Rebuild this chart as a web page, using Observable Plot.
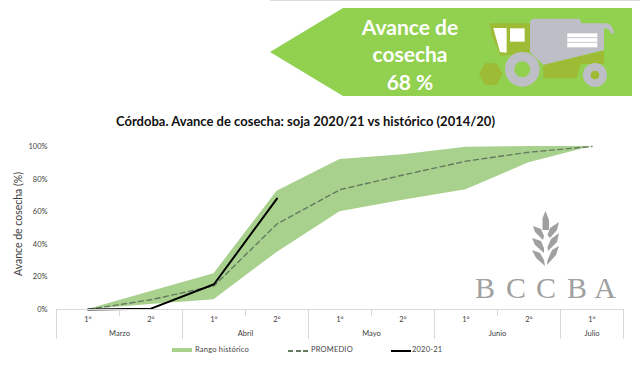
<!DOCTYPE html>
<html><head><meta charset="utf-8">
<script src="https://cdn.jsdelivr.net/npm/d3@7"></script>
<script src="https://cdn.jsdelivr.net/npm/@observablehq/plot@0.6"></script>
<style>
html,body{margin:0;padding:0;background:#fff;overflow:hidden}
#page{position:relative;width:640px;height:371px;font-family:Lato,"Open Sans",sans-serif;color:#404040}
#page>*{position:absolute}
#topline{left:270px;top:0;width:370px;height:1px;background:#dcdce0}
#deco{left:0;top:0}
#title{left:116px;top:112px;white-space:nowrap;font:700 13px/18px Lato,sans-serif;color:#111}
#chart{left:0;top:130px}
.lg{font-size:7.5px;line-height:10px;top:345px;color:#444;letter-spacing:.2px}
.sw{top:348px;width:20px;height:4px;background:#a9d18e}
.da{top:350px;width:20px;height:1.5px;background:repeating-linear-gradient(90deg,#647a5e 0 5px,transparent 5px 7.5px)}
.bl{top:349.5px;width:20px;height:2px;background:#000}
</style></head><body>
<div id="page">
<div id="topline"></div>
<svg id="deco" width="640" height="371">
  <polygon points="270,52 343,8 632,8 632,96 343,96" fill="#92d050"/>
  <g font-family="Lato,sans-serif" font-weight="700" fill="#fff" text-anchor="middle" font-size="21">
    <text x="410" y="35">Avance de</text>
    <text x="410" y="62">cosecha</text>
    <text x="410" y="90">68 %</text>
  </g>
  <g transform="translate(260,0) scale(0.3333)">
    <polygon points="690,70 812,70 812,155 722,168 695,105" fill="#9dbb35"/>
    <polygon points="700,84 740,84 740,158 720,156" fill="#fff"/>
    <rect x="750" y="85" width="44" height="40" fill="#fff"/>
    <path d="M810,155 V70 Q810,58 822,56 L958,56 L965,70 H1040 Q1056,72 1063,100 L1055,102 Q1048,84 1032,84 V150 L850,195 Z" fill="#bebec6"/>
    <polygon points="850,195 1032,152 1032,192 962,192 950,235 850,235" fill="#9dbb35"/>
    <rect x="922" y="100" width="90" height="42" fill="#fff"/>
    <g stroke="#c8c8ce" stroke-width="3"><line x1="922" y1="113" x2="1012" y2="113"/><line x1="922" y1="127" x2="1012" y2="127"/></g>
    <polygon points="657,222 675,190 710,190 728,222 710,255 675,255" fill="#9dbb35"/>
    <circle cx="787" cy="208" r="38" fill="#92d050" stroke="#bebec6" stroke-width="28"/>
    <circle cx="1005" cy="225" r="24" fill="#92d050" stroke="#bebec6" stroke-width="24"/>
    <circle cx="1005" cy="225" r="13" fill="#9dbb35"/>
  </g>
  <g fill="#a0a0a0">
    <polygon points="542.5,230 542.5,218 545.5,211 549,220 549,230"/>
    <polygon points="547.5,235 550,228 559,222 557,230 550,238"/>
    <polygon points="544,236 541,229 533,226 535,232 543,240"/>
    <polygon points="547.5,247 551,239 559,233 557,242 548,251"/>
    <polygon points="544,248 541,241 532,238 535,245 544,253"/>
    <polygon points="547.5,260 552,250 559,246 556,255 547,265"/>
    <polygon points="544,260 540,253 532,250 536,258 545,266"/>
  </g>
  <g font-family="Liberation Serif,serif" font-size="30" fill="#a0a0a0" text-anchor="middle">
    <text x="485" y="298">B</text><text x="516" y="298">C</text><text x="546" y="298">C</text><text x="577" y="298">B</text><text x="605" y="298">A</text>
  </g>
</svg>
<div id="title">Córdoba. Avance de cosecha: soja 2020/21 vs histórico (2014/20)</div>
<div id="chart"></div>
<div class="sw" style="left:172px"></div><div class="lg" style="left:195px">Rango histórico</div>
<div class="da" style="left:288px"></div><div class="lg" style="left:311px">PROMEDIO</div>
<div class="bl" style="left:391px"></div><div class="lg" style="left:412px">2020-21</div>
</div>
<script>
const decenas = ["1°","2°","1°","2°","1°","2°","1°","2°","1°"];
const meses = ["Marzo","Abril","Mayo","Junio","Julio"];
const mesCentro = [0.5,2.5,4.5,6.5,8];
const limitesMes = [-0.5,1.5,3.5,5.5,7.5,8.5];
const limitesDecena = [0.5,2.5,4.5,6.5];
const yTicks = [0,20,40,60,80,100];
const maximo = [0,11,22,72.5,92,95,99.5,100,100];
const minimo = [0,3,6,35,60,67,73.5,90,100];
const promedio = [0,6,14.5,52.5,73.5,82.5,91,96.5,100];
const actual = [0,0.5,15.5,68];

const idx = decenas.map((_,i)=>i);
const textFill = "#404040";
const plot = Plot.plot({
  width:640,height:215,marginLeft:56,marginRight:17,marginTop:16,marginBottom:36,
  style:{background:"transparent",fontFamily:'Lato,sans-serif',fontSize:"8px",overflow:"visible"},
  x:{type:"linear",domain:[-0.5,8.5],axis:null},
  y:{domain:[0,100],axis:null},
  marks:[
    Plot.areaY(idx,{x:i=>i,y1:i=>minimo[i],y2:i=>maximo[i],fill:"#a9d18e",curve:"linear"}),
    Plot.lineY(idx,{x:i=>i,y:i=>promedio[i],stroke:"#647a5e",strokeWidth:1.4,strokeDasharray:"5,3.5",curve:"linear"}),
    Plot.lineY(actual,{x:(_,i)=>i,y:d=>d,stroke:"#000",strokeWidth:2,curve:"linear"}),
    Plot.ruleY([0],{stroke:"#d9d9d9",strokeWidth:1}),
    Plot.ruleX(limitesMes,{x:d=>d,y1:0,y2:0,stroke:"#d9d9d9",insetBottom:-30}),
    Plot.ruleX(limitesDecena,{x:d=>d,y1:0,y2:0,stroke:"#d9d9d9",insetBottom:-7}),
    Plot.text(idx,{x:i=>i,y:0,text:i=>decenas[i],fill:textFill,dy:10,fontSize:7.5}),
    Plot.text(meses,{x:(_,i)=>mesCentro[i],y:0,text:d=>d,fill:textFill,dy:24,fontSize:7.5}),
    Plot.axisY(yTicks,{anchor:"left",tickSize:0,tickPadding:9,tickFormat:d=>d+"%",fill:textFill,fontSize:7.5,label:null}),
    Plot.text(["Avance de cosecha (%)"],{frameAnchor:"left",textAnchor:"middle",rotate:-90,dx:-38,dy:-4,fill:textFill,fontSize:10.5})
  ]
});
document.getElementById("chart").appendChild(plot);
</script>
</body></html>
